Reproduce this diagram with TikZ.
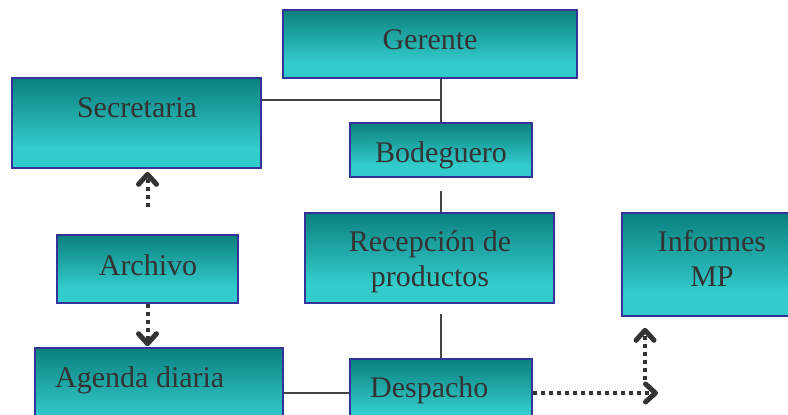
\documentclass[tikz,border=0pt]{standalone}
\usepackage{fontspec}
\setmainfont{Liberation Serif}
\usetikzlibrary{arrows.meta}
\definecolor{boxdark}{HTML}{0A807E}
\definecolor{boxlight}{HTML}{33CCCC}
\definecolor{boxedge}{HTML}{333399}
\definecolor{txt}{HTML}{333333}
\definecolor{conn}{HTML}{444444}
\pgfdeclareverticalshading{boxshade}{100bp}{color(0bp)=(boxlight); color(25bp)=(boxlight); color(36bp)=(boxlight); color(75bp)=(boxdark); color(100bp)=(boxdark)}
\tikzset{
  orgbox/.style={draw=boxedge, line width=1.6bp, shading=boxshade, inner sep=0pt},
  lbl/.style={text=txt, font=\fontsize{30bp}{35bp}\selectfont, inner sep=0pt, align=center, anchor=base},
  solidlink/.style={draw=conn, line width=1.6bp},
  dotlink/.style={draw=txt, line width=4bp, dash pattern=on 4bp off 4bp, -{Straight Barb[length=10bp,width=18bp,line width=5bp 0,round]}}
}
\begin{document}
\begin{tikzpicture}[x=1bp,y=-1bp]
\useasboundingbox (0,0) rectangle (788,414);
\clip (0,0) rectangle (788,414);
% boxes
\node[orgbox, minimum width=294bp, minimum height=68bp] (gerente) at (430,44) {};
\node[orgbox, minimum width=249bp, minimum height=90bp] (secretaria) at (136.5,123) {};
\node[orgbox, minimum width=182bp, minimum height=54bp] (bodeguero) at (441,150) {};
\node[orgbox, minimum width=249bp, minimum height=90bp] (recepcion) at (429.5,258) {};
\node[orgbox, minimum width=181bp, minimum height=68bp] (archivo) at (147.5,269) {};
\node[orgbox, minimum width=248bp, minimum height=90bp] (agenda) at (159,393) {};
\node[orgbox, minimum width=182bp, minimum height=68bp] (despacho) at (441,393) {};
\node[orgbox, minimum width=180bp, minimum height=103bp] (informes) at (712,264.5) {};
% labels
\node[lbl] (tgerente) at (430,49) {Gerente};
\node[lbl] (tsecretaria) at (137,117) {Secretaria};
\node[lbl] (tbodeguero) at (441,162) {Bodeguero};
\node[lbl] (trecepcion) at (430,286) {Recepción de\\productos};
\node[lbl] (tarchivo) at (148,275) {Archivo};
\node[lbl, anchor=base west] (tagenda) at (55,387) {Agenda diaria};
\node[lbl, anchor=base west] (tdespacho) at (370,397) {Despacho};
\node[lbl] (tinformes) at (712,286) {Informes\\MP};
% solid connectors
\coordinate (jn) at (441,100);
\draw[solidlink] (bodeguero.north |- gerente.south) -- (bodeguero.north);
\draw[solidlink] (secretaria.east |- jn) -- (jn);
\draw[solidlink, shorten <=13bp] (bodeguero.south) -- (bodeguero.south |- recepcion.north);
\draw[solidlink, shorten <=10bp] (despacho.north |- recepcion.south) -- (despacho.north);
\draw[solidlink] (agenda.east) -- (despacho.west);
% dotted arrows
\draw[dotlink, shorten <=27bp, shorten >=3bp] (archivo.north) -- (archivo.north |- secretaria.south);
\draw[dotlink, shorten >=1bp] (archivo.south) -- (archivo.south |- agenda.north);
\coordinate (dend) at (658,393);
\draw[dotlink] (despacho.east) -- (dend);
\coordinate (ustart) at (645,380);
\draw[dotlink, shorten >=11bp] (ustart) -- (ustart |- informes.south);
\end{tikzpicture}
\end{document}
